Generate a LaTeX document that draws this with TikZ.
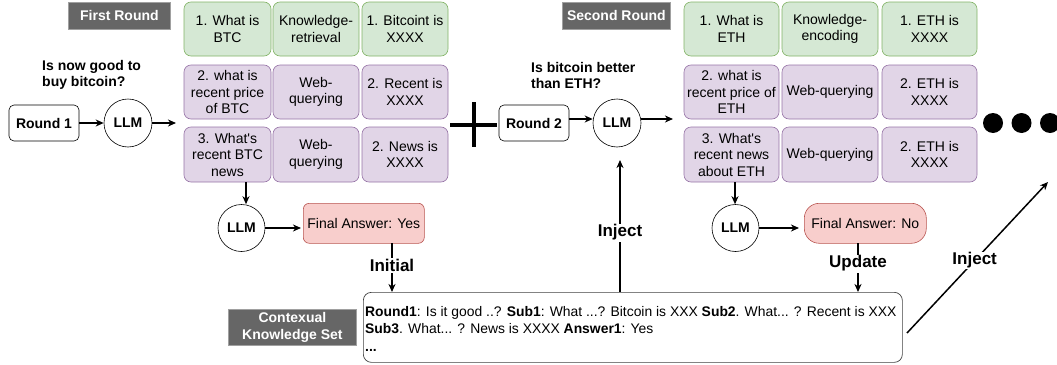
\documentclass[tikz,border=0pt]{standalone}
\usepackage{fontspec}
\setmainfont{Liberation Sans}
\usetikzlibrary{arrows.meta,calc}
\definecolor{gfill}{HTML}{D5E8D4}
\definecolor{gline}{HTML}{82B366}
\definecolor{pfill}{HTML}{E1D5E7}
\definecolor{pline}{HTML}{9673A6}
\definecolor{rfill}{HTML}{F8CECC}
\definecolor{rline}{HTML}{B85450}
\definecolor{tagfill}{HTML}{666666}
\definecolor{tagline}{HTML}{A0A0A0}
\begin{document}
\begin{tikzpicture}[x=1pt,y=-1pt,
  cell/.style={draw, rounded corners=7pt, align=center, anchor=north west, inner sep=1pt, outer sep=0pt,
    font=\fontsize{14}{16.5}\selectfont, line width=0.6pt},
  grn/.style={cell, fill=gfill, draw=gline},
  prp/.style={cell, fill=pfill, draw=pline},
  tag/.style={fill=tagfill, draw=tagline, text=white, font=\fontsize{14}{16}\selectfont\bfseries, align=center, inner sep=0pt, line width=0.8pt},
  rbox/.style={draw, rounded corners=5pt, font=\fontsize{14}{16}\selectfont\bfseries, minimum width=70pt, minimum height=36pt, inner sep=0pt, line width=0.6pt},
  llm/.style={draw, circle, minimum size=48pt, inner sep=0pt, font=\fontsize{14}{16}\selectfont\bfseries, line width=0.6pt},
  qtext/.style={font=\fontsize{14}{16}\selectfont\bfseries, align=left, anchor=west, inner sep=0pt},
  ans/.style={fill=rfill, draw=rline, font=\fontsize{14}{16}\selectfont, inner sep=0pt, line width=0.6pt},
  arr/.style={-{Stealth[length=8pt,width=7pt,inset=2.5pt]}, line width=1.5pt},
  lbl/.style={fill=white, font=\fontsize{17}{19}\selectfont\bfseries, inner sep=1pt},
]
\useasboundingbox (0,0) rectangle (1057,364);

% ---------- First round ----------
\node[tag, minimum width=102pt, minimum height=27pt, anchor=north west] (t1) at (68,2) {First Round};
\node[grn, minimum width=87pt, minimum height=54pt] (a11) at (184,2) {1. What is\\BTC};
\node[grn, minimum width=86pt, minimum height=54pt] (a12) at (273,2) {Knowledge-\\retrieval};
\node[grn, minimum width=86pt, minimum height=54pt] (a13) at (362,2) {1. Bitcoint is\\XXXX};
\node[prp, minimum width=87pt, minimum height=54pt] (a21) at (184,65) {2. what is\\recent price\\of BTC};
\node[prp, minimum width=86pt, minimum height=54pt] (a22) at (273,65) {Web-\\querying};
\node[prp, minimum width=86pt, minimum height=54pt] (a23) at (362,65) {2. Recent is\\XXXX};
\node[prp, minimum width=87pt, minimum height=55pt] (a31) at (184,127) {3. What\textquotesingle s\\recent BTC\\news};
\node[prp, minimum width=86pt, minimum height=55pt] (a32) at (273,127) {Web-\\querying};
\node[prp, minimum width=86pt, minimum height=55pt] (a33) at (362,127) {2. News is\\XXXX};

\node[qtext] (q1) at (42,75) {Is now good to\\buy bitcoin?};
\node[rbox] (r1) at (44,123) {Round 1};
\node[llm] (l1) at (128,123) {LLM};
\coordinate (g1in) at (176,123);
\draw[arr] (r1.east) -- (l1.west);
\draw[arr] (l1.east) -- (g1in);

\node[llm, minimum size=47pt] (l3) at (241.5,228) {LLM};
\coordinate (d1) at (246,182);
\draw[arr] (d1) -- (d1 |- l3.north);
\node[ans, rounded corners=6pt, minimum width=121pt, minimum height=40pt, anchor=north west] (fy) at (303,203) {Final Answer: Yes};
\draw[arr, shorten >=2pt] (l3.east) -- (l3.east -| fy.west);

% ---------- plus ----------
\coordinate (pc) at (473.5,124.5);
\draw[line width=4pt] ($(pc)+(-23.5,0)$) -- ($(pc)+(23.5,0)$);
\draw[line width=4pt] ($(pc)+(0,-22.5)$) -- ($(pc)+(0,22.5)$);

% ---------- Second round ----------
\node[tag, minimum width=108pt, minimum height=27pt, anchor=north west] (t2) at (562,2) {Second Round};
\node[grn, minimum width=95pt, minimum height=54pt] (b11) at (684,2) {1. What is\\ETH};
\node[grn, minimum width=96pt, minimum height=54pt] (b12) at (782,2) {Knowledge-\\encoding};
\node[grn, minimum width=95pt, minimum height=54pt] (b13) at (882,2) {1. ETH is\\XXXX};
\node[prp, minimum width=95pt, minimum height=54pt] (b21) at (684,65) {2. what is\\recent price of\\ETH};
\node[prp, minimum width=96pt, minimum height=54pt] (b22) at (782,65) {Web-querying};
\node[prp, minimum width=95pt, minimum height=54pt] (b23) at (882,65) {2. ETH is\\XXXX};
\node[prp, minimum width=95pt, minimum height=55pt] (b31) at (684,127) {3. What\textquotesingle s\\recent news\\about ETH};
\node[prp, minimum width=96pt, minimum height=55pt] (b32) at (782,127) {Web-querying};
\node[prp, minimum width=95pt, minimum height=55pt] (b33) at (882,127) {2. ETH is\\XXXX};

\node[qtext] (q2) at (531,75) {Is bitcoin better\\than ETH?};
\node[rbox] (r2) at (534,123) {Round 2};
\node[llm] (l2) at (617,123) {LLM};
\coordinate (g2in) at (673,119);
\draw[arr] (r2.east |- g2in) -- (l2.west |- g2in);
\draw[arr] (l2.east |- g2in) -- (g2in);

\node[llm, minimum size=47pt] (l4) at (735.5,228) {LLM};
\coordinate (d2) at (735,182);
\draw[arr] (d2) -- (d2 |- l4.north);
\node[ans, rounded corners=15pt, minimum width=122pt, minimum height=40pt, anchor=north west] (fn) at (804,203) {Final Answer: No};
\draw[arr, shorten >=5pt] (l4.east) -- (l4.east -| fn.west);

% ---------- dots ----------
\fill (993,123) circle (10pt) (1021.5,123) circle (10pt) (1050,123) circle (10pt);

% ---------- knowledge set ----------
\node[tag, minimum width=128pt, minimum height=36pt, anchor=north west, font=\fontsize{14}{17}\selectfont\bfseries] (t3) at (228,309) {Contexual\\Knowledge Set};
\node[draw=black!75, rounded corners=8pt, minimum width=539pt, minimum height=70pt, anchor=north west, inner sep=0pt, line width=0.7pt] (kb) at (363,292) {};
\node[anchor=north west, align=left, inner sep=0pt, font=\fontsize{13.9}{17.5}\selectfont] (kbt) at (365,306) {\textbf{Round1}: Is it good ..? \textbf{Sub1}: What ...? Bitcoin is XXX \textbf{Sub2}. What... ? Recent is XXX\\\textbf{Sub3}. What... ? News is XXXX \textbf{Answer1}: Yes\\\textbf{...}};

% ---------- connectors ----------
\coordinate (ini) at (392,243);
\draw[arr] (ini) -- node[lbl, pos=0.46] {Initial} (ini |- kb.north);
\coordinate (upd) at (858,243);
\draw[arr] (upd) -- node[lbl, pos=0.42] {Update} (upd |- kb.north);
\coordinate (inj) at (620,292);
\coordinate (injt) at (620,160);
\draw[arr] (inj) -- node[lbl, pos=0.45] {Inject} (injt);
\coordinate (dgs) at (907,333);
\coordinate (dge) at (1048,182);
\draw[arr] (dgs) -- node[lbl, pos=0.48] {Inject} (dge);
\end{tikzpicture}
\end{document}
